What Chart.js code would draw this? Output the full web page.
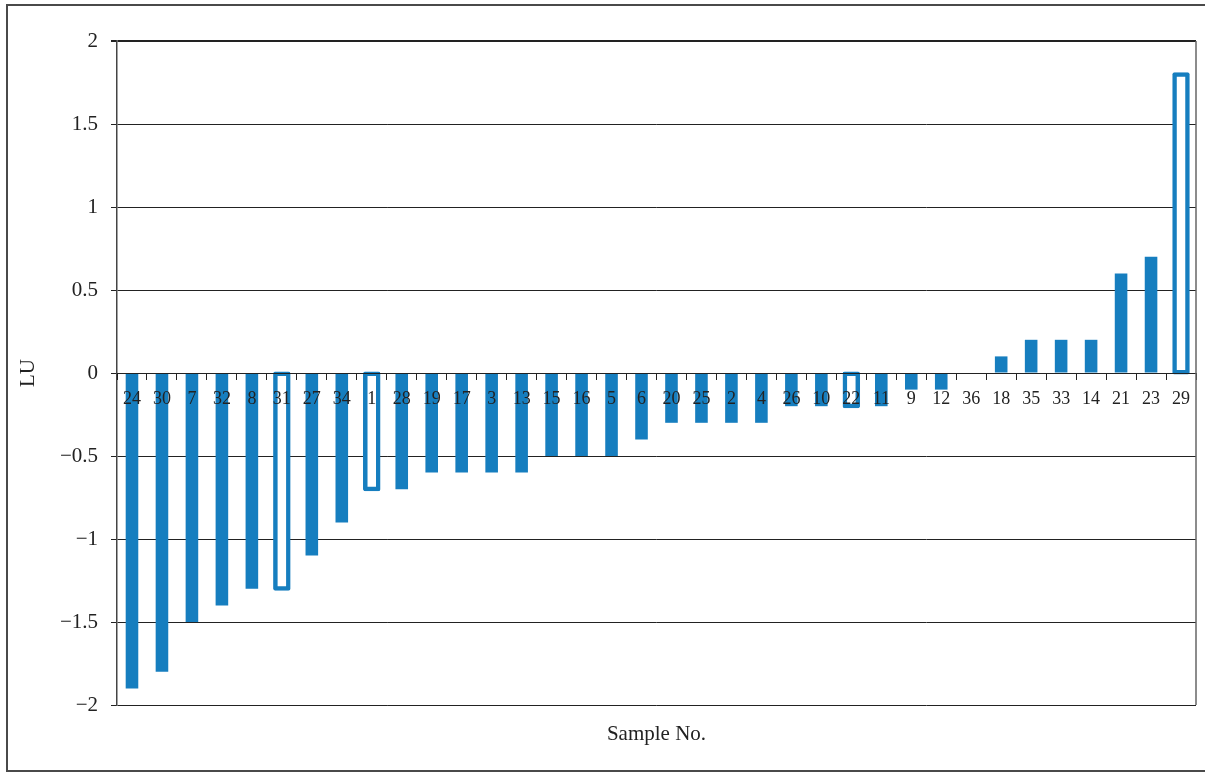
<!DOCTYPE html>
<html>
<head>
<meta charset="utf-8">
<script src="https://cdn.jsdelivr.net/npm/chart.js@4"></script>
<style>
  html, body { margin: 0; padding: 0; background: #fff; }
  #wrap { position: relative; width: 1205px; height: 772px; overflow: hidden; }
  #frame { position: absolute; left: 6px; top: 4px; width: 1300px; height: 768px; box-sizing: border-box; border: 2px solid #4a4a4a; }
  canvas { position: absolute; left: 0; top: 0; }
</style>
</head>
<body>
<div id="wrap">
  <div id="frame"></div>
  <canvas id="c" width="1205" height="772"></canvas>
</div>
<script>
// Sample numbers, in the order shown along the x axis
const samples = ['24','30','7','32','8','31','27','34','1','28','19','17','3','13','15','16','5','6','20','25','2','4','26','10','22','11','9','12','36','18','35','33','14','21','23','29'];
// LU values for each sample
const luValues = [-1.9,-1.8,-1.5,-1.4,-1.3,-1.3,-1.1,-0.9,-0.7,-0.7,-0.6,-0.6,-0.6,-0.6,-0.5,-0.5,-0.5,-0.4,-0.3,-0.3,-0.3,-0.3,-0.2,-0.2,-0.2,-0.2,-0.1,-0.1,0,0.1,0.2,0.2,0.2,0.6,0.7,1.8];
// Samples drawn as outlined (hollow) bars
const hollowSamples = ['31','1','22','29'];
// Y axis ticks
const yMin = -2, yMax = 2, yStep = 0.5;

const BLUE = 'rgb(22,126,191)';
const TXT = '#222';
const SERIF = '"Liberation Serif", "Times New Roman", serif';

const solidData = samples.map((s, i) => hollowSamples.includes(s) ? null : luValues[i]);
const hollowData = samples.map((s, i) => hollowSamples.includes(s) ? luValues[i] : null);

const rightBorder = {
  id: 'rightBorder',
  afterDraw(chart) {
    const {ctx, chartArea: a} = chart;
    ctx.save();
    ctx.strokeStyle = '#666';
    ctx.lineWidth = 1.5;
    ctx.beginPath();
    ctx.moveTo(a.right, a.top);
    ctx.lineTo(a.right, a.bottom);
    ctx.stroke();
    ctx.restore();
  }
};

new Chart(document.getElementById('c'), {
  type: 'bar',
  data: {
    labels: samples,
    datasets: [
      {
        data: solidData,
        backgroundColor: BLUE,
        borderWidth: 0,
        barPercentage: 0.42,
        categoryPercentage: 1,
        grouped: false,
        inflateAmount: 0
      },
      {
        data: hollowData,
        backgroundColor: '#fff',
        borderColor: BLUE,
        borderWidth: 4.5,
        borderRadius: 2,
        borderSkipped: false,
        barPercentage: 0.45,
        categoryPercentage: 1,
        grouped: false,
        inflateAmount: 2
      }
    ]
  },
  options: {
    responsive: false,
    animation: false,
    devicePixelRatio: 1,
    layout: { padding: { left: 0, top: 41, right: 9, bottom: 0 } },
    plugins: { legend: { display: false }, tooltip: { enabled: false } },
    scales: {
      x: {
        type: 'category',
        position: { y: 0 },
        offset: true,
        grid: { display: true, drawOnChartArea: false, drawTicks: true, tickLength: 6, color: TXT, offset: true, z: 1 },
        border: { display: true, color: TXT, width: 1, z: 1 },
        ticks: { font: { family: SERIF, size: 18 }, color: TXT, padding: 9, maxRotation: 0, autoSkip: false, z: 1 }
      },
      x2: {
        type: 'category',
        position: 'bottom',
        grid: { display: false, drawTicks: false },
        border: { display: false },
        ticks: { display: false },
        title: { display: true, text: 'Sample No.', font: { family: SERIF, size: 21 }, color: TXT, padding: { top: 0, bottom: 25 } },
        afterFit(scale) { scale.height = 67; }
      },
      y: {
        min: yMin,
        max: yMax,
        grid: { color: TXT, lineWidth: (c) => (c.tick && c.tick.value === yMax ? 2 : 1), drawTicks: true, tickLength: 6 },
        border: { display: true, color: '#444', width: 1.5 },
        ticks: {
          stepSize: yStep,
          font: { family: SERIF, size: 21 },
          color: TXT,
          padding: 13,
          callback: (v) => String(v).replace('-', '\u2212')
        },
        title: { display: true, text: 'LU', font: { family: SERIF, size: 21 }, color: TXT, padding: { top: 16, bottom: 0 } },
        afterFit(scale) { scale.width = 117; }
      }
    }
  },
  plugins: [rightBorder]
});
</script>
</body>
</html>
